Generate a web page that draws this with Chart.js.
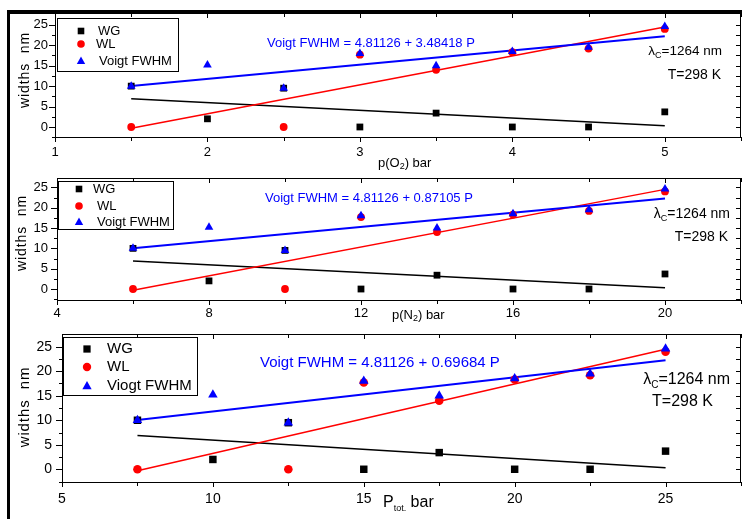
<!DOCTYPE html>
<html>
<head>
<meta charset="utf-8">
<script src="https://cdn.jsdelivr.net/npm/chart.js@4.4.1/dist/chart.umd.min.js"></script>
<style>
  body { margin: 0; background: #fff; }
  #wrap { position: relative; width: 742px; height: 519px; overflow: hidden; background: #fff; }
  #wrap canvas { position: absolute; left: 0; }
  #rahmen { position: absolute; left: 7px; top: 10px; width: 740px; height: 520px;
            border-left: 3px solid #000; border-top: 4px solid #000; box-sizing: border-box; pointer-events: none; }
</style>
</head>
<body>
<div id="wrap">
  <canvas id="c1" width="742" height="172" style="top:0px"></canvas>
  <canvas id="c2" width="742" height="156" style="top:172px"></canvas>
  <canvas id="c3" width="742" height="191" style="top:328px"></canvas>
  <div id="rahmen"></div>
</div>
<script>
// Druckwerte der drei Teilbilder (bar)
const pO2  = [1.5, 2, 2.5, 3, 3.5, 4, 4.5, 5];
const pN2  = [6, 8, 10, 12, 14, 16, 18, 20];
const pTot = [7.5, 10, 12.5, 15, 17.5, 20, 22.5, 25];

// Linienbreiten in nm (gleich in allen drei Teilbildern)
const wG    = [10, 2, 9.5, 0, 3.4, 0, 0, 3.7];
const wL    = [0, null, 0, 17.7, 14, 18.3, 19.2, 24];
const voigt = [10, 15.2, 9.5, 18, 15, 18.5, 19.5, 24.6];

// Fit-Geraden: Wert am ersten und letzten Druckpunkt
const fitWG    = [6.9, 0.3];
const fitWL    = [-0.3, 24.5];
const fitVoigt = [10.04, 22.23];

// Achsen
const yTicks  = [-2.5, 0, 2.5, 5, 7.5, 10, 12.5, 15, 17.5, 20, 22.5, 25];
const yLabels = [0, 5, 10, 15, 20, 25];
const xTicksO2   = [1, 1.5, 2, 2.5, 3, 3.5, 4, 4.5, 5, 5.5];
const xLabelsO2  = [1, 2, 3, 4, 5];
const xTicksN2   = [4, 6, 8, 10, 12, 14, 16, 18, 20, 22];
const xLabelsN2  = [4, 8, 12, 16, 20];
const xTicksTot  = [5, 7.5, 10, 12.5, 15, 17.5, 20, 22.5, 25, 27.5];
const xLabelsTot = [5, 10, 15, 20, 25];

const legendeA = ["WG", "WL", "Voigt FWHM"];
const legendeB = ["WG", "WL", "Viogt FWHM"];
const fitTexte = [
  "Voigt FWHM = 4.81126 + 3.48418 P",
  "Voigt FWHM = 4.81126 + 0.87105 P",
  "Voigt FWHM = 4.81126 + 0.69684 P"
];

const FONT = '"Liberation Sans", Arial, sans-serif';
const BLAU = "#0000ff", ROT = "#ff0000";

const panels = [
  { id: "c1", xs: pO2, xMin: 1, xMax: 5.5, yMin: -2.45, yMax: 27.9, xTicks: xTicksO2, xLabels: xLabelsO2,
    padTop: 13, yW: 55, xH: 35, tick: 13, xPad: 8, yPad: 7, legende: legendeA,
    box: [57, 18, 178, 71], mx: 81, my: [31, 44, 61], tx: [98, 96, 99], lf: 13, ms: 1,
    fit: [267, 43, 13], lam: [722, 51, 13.5], temp: [721, 75, 14],
    xTitel: [378, 163, "O", 13], yTitel: [25, 70, 14] },
  { id: "c2", xs: pN2, xMin: 4, xMax: 22, yMin: -2.7, yMax: 27.3, xTicks: xTicksN2, xLabels: xLabelsN2,
    padTop: 6, yW: 57, xH: 28, tick: 13, xPad: 6, yPad: 9, legende: legendeA,
    box: [58, 9, 173, 57], mx: 79, my: [17, 34, 50], tx: [93, 97, 97], lf: 13, ms: 1,
    fit: [265, 26, 13], lam: [730, 42, 14], temp: [728, 65, 14],
    xTitel: [392, 143, "N", 13], yTitel: [22, 61, 14] },
  { id: "c3", xs: pTot, xMin: 5, xMax: 27.5, yMin: -2.6, yMax: 27.6, xTicks: xTicksTot, xLabels: xLabelsTot,
    padTop: 6, yW: 62, xH: 37, tick: 14, xPad: 9, yPad: 10, legende: legendeB,
    box: [63, 9, 197, 67], mx: 87, my: [21, 39, 58], tx: [107, 107, 107], lf: 15, ms: 1.1,
    fit: [260, 35, 15], lam: [730, 52, 16], temp: [713, 74, 16],
    xTitel: [383, 175, "tot", 16], yTitel: [25, 79, 15] }
];

// Text aus mehreren Teilen (für Indizes)
function textTeile(ctx, teile, x, y, align) {
  let w = 0;
  teile.forEach(t => { ctx.font = t[1] + "px " + FONT; w += ctx.measureText(t[0]).width; });
  let cx = align === "right" ? x - w : x;
  ctx.textAlign = "left";
  ctx.textBaseline = "middle";
  teile.forEach(t => {
    ctx.font = t[1] + "px " + FONT;
    ctx.fillText(t[0], cx, y + (t[2] || 0));
    cx += ctx.measureText(t[0]).width;
  });
}

function marker(ctx, art, x, y, s) {
  ctx.beginPath();
  if (art === 0) {
    ctx.fillStyle = "#000";
    ctx.rect(x - 3.3 * s, y - 3.3 * s, 6.6 * s, 6.6 * s);
  } else if (art === 1) {
    ctx.fillStyle = ROT;
    ctx.arc(x, y, 3.8 * s, 0, Math.PI * 2);
  } else {
    ctx.fillStyle = BLAU;
    ctx.moveTo(x, y - 4.6 * s);
    ctx.lineTo(x + 4.2 * s, y + 3 * s);
    ctx.lineTo(x - 4.2 * s, y + 3 * s);
    ctx.closePath();
  }
  ctx.fill();
}

const rahmenPlugin = {
  id: "rahmen",
  afterDraw(chart) {
    const p = chart.options.plugins.rahmen.p;
    const { ctx, chartArea: a } = chart;
    const xs = chart.scales.x, ys = chart.scales.y;
    ctx.save();
    ctx.strokeStyle = "#000";
    ctx.lineWidth = 1;
    ctx.strokeRect(Math.round(a.left) + 0.5, Math.round(a.top) + 0.5,
                   Math.round(a.right - a.left) - 1, Math.round(a.bottom - a.top));
    ctx.beginPath();
    p.xTicks.forEach(v => {
      const px = Math.round(xs.getPixelForValue(v)) + 0.5;
      const l = p.xLabels.includes(v) ? 5 : 4;
      ctx.moveTo(px, a.bottom); ctx.lineTo(px, a.bottom + l);
      ctx.moveTo(px, a.top); ctx.lineTo(px, a.top + l);
    });
    yTicks.forEach(v => {
      const py = Math.round(ys.getPixelForValue(v)) + 0.5;
      const l = yLabels.includes(v) ? 6 : 3;
      ctx.moveTo(a.left - l, py); ctx.lineTo(a.left, py);
      ctx.moveTo(a.right - 5, py); ctx.lineTo(a.right, py);
    });
    ctx.stroke();

    // Legende
    const b = p.box;
    ctx.fillStyle = "#fff";
    ctx.fillRect(b[0], b[1], b[2] - b[0], b[3] - b[1]);
    ctx.strokeRect(b[0] + 0.5, b[1] + 0.5, b[2] - b[0], b[3] - b[1]);
    p.legende.forEach((name, i) => {
      marker(ctx, i, p.mx, p.my[i], p.ms);
      ctx.fillStyle = "#000";
      textTeile(ctx, [[name, p.lf]], p.tx[i], p.my[i], "left");
    });

    // Fit-Gleichung
    ctx.fillStyle = BLAU;
    textTeile(ctx, [[fitTexte[chart.options.plugins.rahmen.n], p.fit[2]]], p.fit[0], p.fit[1], "left");

    // Wellenlänge und Temperatur
    ctx.fillStyle = "#000";
    const f = p.lam[2];
    textTeile(ctx, [["λ", f], ["C", Math.round(f * 0.65), f * 0.3], ["=1264 nm", f]], p.lam[0], p.lam[1], "right");
    textTeile(ctx, [["T=298 K", p.temp[2]]], p.temp[0], p.temp[1], "right");

    // Achsentitel x
    const t = p.xTitel;
    if (t[2] === "tot") {
      textTeile(ctx, [["P", t[3]], ["tot.", 9, 6], [" bar", t[3]]], t[0], t[1], "left");
    } else {
      textTeile(ctx, [["p(" + t[2], t[3]], ["2", 9, 4], [") bar", t[3]]], t[0], t[1], "left");
    }

    // Achsentitel y
    const yt = p.yTitel;
    ctx.translate(yt[0], yt[1]);
    ctx.rotate(-Math.PI / 2);
    ctx.font = yt[2] + "px " + FONT;
    ctx.letterSpacing = "0.9px";
    ctx.textAlign = "center";
    ctx.textBaseline = "middle";
    ctx.fillText("widths  nm", 0, 0);
    ctx.restore();
  }
};

function punkte(xs, ys) {
  return xs.map((x, i) => ({ x: x, y: ys[i] })).filter(d => d.y !== null);
}
function gerade(xs, ys) {
  return [{ x: xs[0], y: ys[0] }, { x: xs[xs.length - 1], y: ys[1] }];
}

panels.forEach((p, n) => {
  const ctx = document.getElementById(p.id).getContext("2d");
  new Chart(ctx, {
    type: "scatter",
    data: {
      datasets: [
        { label: "Voigt FWHM", data: punkte(p.xs, voigt), pointStyle: "triangle", pointRadius: 5 * p.ms,
          backgroundColor: BLAU, borderColor: BLAU, pointBorderWidth: 0, order: 1 },
        { label: "WL", data: punkte(p.xs, wL), pointStyle: "circle", pointRadius: 3.9 * p.ms,
          backgroundColor: ROT, borderColor: ROT, pointBorderWidth: 0, order: 2 },
        { label: "WG", data: punkte(p.xs, wG), pointStyle: "rect", pointRadius: 4.8 * p.ms,
          backgroundColor: "#000", borderColor: "#000", pointBorderWidth: 0, order: 3 },
        { data: gerade(p.xs, fitVoigt), showLine: true, pointRadius: 0, borderColor: BLAU, borderWidth: 2, order: 4 },
        { data: gerade(p.xs, fitWL), showLine: true, pointRadius: 0, borderColor: ROT, borderWidth: 1.5, order: 5 },
        { data: gerade(p.xs, fitWG), showLine: true, pointRadius: 0, borderColor: "#000", borderWidth: 1.5, order: 6 }
      ]
    },
    options: {
      responsive: false,
      animation: false,
      devicePixelRatio: 1,
      layout: { autoPadding: false, padding: { top: p.padTop, right: 1, left: 0, bottom: 0 } },
      plugins: { legend: { display: false }, tooltip: { enabled: false }, rahmen: { p: p, n: n } },
      scales: {
        x: {
          type: "linear", min: p.xMin, max: p.xMax,
          afterBuildTicks: s => { s.ticks = p.xTicks.map(v => ({ value: v })); },
          afterFit: s => { s.height = p.xH; s.paddingLeft = 0; s.paddingRight = 0; },
          // Abstand der Beschriftung über tickLength, die Striche zeichnet das Plugin
          grid: { display: false, drawTicks: true, tickLength: p.xPad },
          border: { display: false },
          ticks: { autoSkip: false, maxRotation: 0, padding: 0, color: "#000",
                   font: { family: FONT, size: p.tick },
                   callback: v => p.xLabels.includes(v) ? String(v) : "" }
        },
        y: {
          type: "linear", min: p.yMin, max: p.yMax,
          afterBuildTicks: s => { s.ticks = yTicks.map(v => ({ value: v })); },
          afterFit: s => { s.width = p.yW; s.paddingTop = 0; s.paddingBottom = 0; },
          grid: { display: false, drawTicks: true, tickLength: p.yPad },
          border: { display: false },
          ticks: { autoSkip: false, padding: 0, color: "#000",
                   font: { family: FONT, size: p.tick },
                   callback: v => yLabels.includes(v) ? String(v) : "" }
        }
      }
    },
    plugins: [rahmenPlugin]
  });
});
</script>
</body>
</html>
